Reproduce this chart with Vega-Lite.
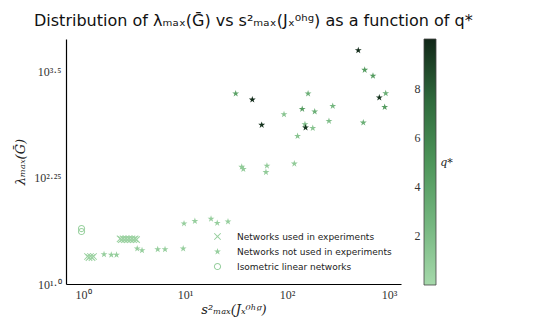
{
  "$schema": "https://vega.github.io/schema/vega-lite/v6.json",
  "padding": {"left": 14, "top": 12, "right": 5, "bottom": 5},
  "title": {
    "text": "Distribution of λₘₐₓ(Ḡ) vs s²ₘₐₓ(Jₓ⁰ʰᵍ) as a function of q*",
    "anchor": "start",
    "frame": "group",
    "dx": -32,
    "font": "DejaVu Sans",
    "fontSize": 16,
    "fontWeight": "normal",
    "color": "#111111",
    "offset": 10
  },
  "spacing": 13,
  "config": {"view": {"stroke": null}},
  "hconcat": [
    {
      "width": 335,
      "height": 245,
      "data": {
        "values": [
          {"x": 2.31, "y": 34.1, "q": 0.5, "type": "Networks used in experiments"},
          {"x": 2.38, "y": 33.4, "q": 0.5, "type": "Networks used in experiments"},
          {"x": 2.47, "y": 34.1, "q": 0.5, "type": "Networks used in experiments"},
          {"x": 2.55, "y": 33.4, "q": 0.5, "type": "Networks used in experiments"},
          {"x": 2.64, "y": 34.1, "q": 0.5, "type": "Networks used in experiments"},
          {"x": 2.73, "y": 33.4, "q": 0.5, "type": "Networks used in experiments"},
          {"x": 2.82, "y": 34.1, "q": 0.5, "type": "Networks used in experiments"},
          {"x": 2.92, "y": 33.4, "q": 0.5, "type": "Networks used in experiments"},
          {"x": 3.02, "y": 34.1, "q": 0.5, "type": "Networks used in experiments"},
          {"x": 3.13, "y": 33.4, "q": 0.5, "type": "Networks used in experiments"},
          {"x": 3.24, "y": 34.1, "q": 0.5, "type": "Networks used in experiments"},
          {"x": 3.35, "y": 33.4, "q": 0.5, "type": "Networks used in experiments"},
          {"x": 1.107, "y": 21.1, "q": 0.5, "type": "Networks used in experiments"},
          {"x": 1.145, "y": 20.5, "q": 0.5, "type": "Networks used in experiments"},
          {"x": 1.184, "y": 21.1, "q": 0.5, "type": "Networks used in experiments"},
          {"x": 1.225, "y": 20.5, "q": 0.5, "type": "Networks used in experiments"},
          {"x": 1.268, "y": 21.1, "q": 0.5, "type": "Networks used in experiments"},
          {"x": 0.967, "y": 45.1, "q": 0.5, "type": "Isometric linear networks"},
          {"x": 0.967, "y": 41.6, "q": 0.5, "type": "Isometric linear networks"},
          {"x": 1.607, "y": 22.4, "q": 0.8, "type": "Networks not used in experiments"},
          {"x": 1.893, "y": 22.1, "q": 0.8, "type": "Networks not used in experiments"},
          {"x": 2.13, "y": 22.1, "q": 0.8, "type": "Networks not used in experiments"},
          {"x": 3.4, "y": 26.1, "q": 0.8, "type": "Networks not used in experiments"},
          {"x": 3.79, "y": 25.0, "q": 0.8, "type": "Networks not used in experiments"},
          {"x": 5.4, "y": 25.6, "q": 0.8, "type": "Networks not used in experiments"},
          {"x": 6.37, "y": 25.6, "q": 0.8, "type": "Networks not used in experiments"},
          {"x": 9.6, "y": 26.2, "q": 0.8, "type": "Networks not used in experiments"},
          {"x": 9.78, "y": 51.7, "q": 0.8, "type": "Networks not used in experiments"},
          {"x": 12.5, "y": 55.3, "q": 0.8, "type": "Networks not used in experiments"},
          {"x": 18.0, "y": 58.7, "q": 0.8, "type": "Networks not used in experiments"},
          {"x": 20.7, "y": 52.4, "q": 0.8, "type": "Networks not used in experiments"},
          {"x": 26.4, "y": 54.3, "q": 0.8, "type": "Networks not used in experiments"},
          {"x": 31.4, "y": 1755, "q": 4, "type": "Networks not used in experiments"},
          {"x": 45.7, "y": 1490, "q": 9.8, "type": "Networks not used in experiments"},
          {"x": 56.5, "y": 750, "q": 9.5, "type": "Networks not used in experiments"},
          {"x": 500, "y": 5700, "q": 9.8, "type": "Networks not used in experiments"},
          {"x": 578, "y": 3340, "q": 4.5, "type": "Networks not used in experiments"},
          {"x": 697, "y": 2840, "q": 4.5, "type": "Networks not used in experiments"},
          {"x": 804, "y": 1574, "q": 9.5, "type": "Networks not used in experiments"},
          {"x": 929, "y": 1774, "q": 3, "type": "Networks not used in experiments"},
          {"x": 908, "y": 1222, "q": 4.5, "type": "Networks not used in experiments"},
          {"x": 161, "y": 1755, "q": 3, "type": "Networks not used in experiments"},
          {"x": 141, "y": 1158, "q": 4.5, "type": "Networks not used in experiments"},
          {"x": 187, "y": 1076, "q": 3, "type": "Networks not used in experiments"},
          {"x": 281, "y": 1256, "q": 2.5, "type": "Networks not used in experiments"},
          {"x": 93.5, "y": 1003, "q": 1.5, "type": "Networks not used in experiments"},
          {"x": 258, "y": 836, "q": 2, "type": "Networks not used in experiments"},
          {"x": 560, "y": 798, "q": 3, "type": "Networks not used in experiments"},
          {"x": 150, "y": 764, "q": 2, "type": "Networks not used in experiments"},
          {"x": 152, "y": 697, "q": 9.5, "type": "Networks not used in experiments"},
          {"x": 179, "y": 691, "q": 1.5, "type": "Networks not used in experiments"},
          {"x": 127, "y": 556, "q": 1.5, "type": "Networks not used in experiments"},
          {"x": 36.0, "y": 240, "q": 1, "type": "Networks not used in experiments"},
          {"x": 37.3, "y": 227, "q": 1, "type": "Networks not used in experiments"},
          {"x": 63.6, "y": 248, "q": 1, "type": "Networks not used in experiments"},
          {"x": 62.2, "y": 208, "q": 1, "type": "Networks not used in experiments"},
          {"x": 118, "y": 262, "q": 1, "type": "Networks not used in experiments"}
        ]
      },
      "mark": {"type": "point", "filled": true, "strokeWidth": 0, "size": 52, "opacity": 1},
      "encoding": {
        "x": {
          "field": "x", "type": "quantitative",
          "scale": {"type": "log", "domain": [0.681, 1312], "nice": false},
          "axis": {
            "values": [1, 10, 100, 1000],
            "labelExpr": "datum.value == 1 ? '10⁰' : datum.value == 10 ? '10¹' : datum.value == 100 ? '10²' : '10³'",
            "title": "s²ₘₐₓ(Jₓ⁰ʰᵍ)",
            "ticks": false, "grid": false,
            "domainColor": "#000000", "domainWidth": 1.2,
            "labelFont": "Liberation Serif", "labelFontSize": 12, "labelColor": "#333333",
            "labelPadding": 5, "labelFlush": false,
            "titleFont": "DejaVu Serif", "titleFontStyle": "italic", "titleFontWeight": "normal",
            "titleFontSize": 13, "titleColor": "#222222", "titlePadding": 3
          }
        },
        "y": {
          "field": "y", "type": "quantitative",
          "scale": {"type": "log", "domain": [10, 7745], "nice": false},
          "axis": {
            "values": [10, 177.83, 3162.28],
            "labelExpr": "datum.value < 50 ? '10¹·⁰' : datum.value < 1000 ? '10²·²⁵' : '10³·⁵'",
            "title": "λₘₐₓ(Ḡ)",
            "ticks": false, "grid": false,
            "domainColor": "#000000", "domainWidth": 1.2,
            "labelFont": "Liberation Serif", "labelFontSize": 12, "labelColor": "#333333",
            "labelPadding": 5, "labelFlush": false,
            "titleFont": "DejaVu Serif", "titleFontStyle": "italic", "titleFontWeight": "normal",
            "titleFontSize": 13, "titleColor": "#222222", "titlePadding": 6
          }
        },
        "shape": {
          "field": "type", "type": "nominal",
          "scale": {
            "domain": ["Networks used in experiments", "Networks not used in experiments", "Isometric linear networks"],
            "range": [
              "M-1,-0.8L-0.8,-1L0,-0.2L0.8,-1L1,-0.8L0.2,0L1,0.8L0.8,1L0,0.2L-0.8,1L-1,0.8L-0.2,0Z",
              "M0,-1L0.2245,-0.309L0.951,-0.309L0.363,0.118L0.588,0.809L0,0.382L-0.588,0.809L-0.363,0.118L-0.951,-0.309L-0.2245,-0.309Z",
              "M1,0A1,1,0,1,1,-1,0A1,1,0,1,1,1,0ZM0.72,0A0.72,0.72,0,1,0,-0.72,0A0.72,0.72,0,1,0,0.72,0Z"
            ]
          },
          "legend": {
            "orient": "none", "legendX": 147, "legendY": 193,
            "title": null, "padding": 0,
            "symbolSize": 52, "symbolStrokeWidth": 0,
            "symbolFillColor": "#98cf9f", "symbolStrokeColor": "#98cf9f",
            "labelFont": "DejaVu Sans", "labelFontSize": 9, "labelColor": "#222222",
            "labelOffset": 15, "rowPadding": 5
          }
        },
        "color": {
          "field": "q", "type": "quantitative",
          "scale": {"domain": [0, 2.5, 5, 7.5, 10], "range": ["#a6d9ab", "#74b67f", "#4d9559", "#2f6a3c", "#112718"]},
          "legend": null
        }
      }
    },
    {
      "width": 12,
      "height": 246,
      "data": {"values": [{"lo": 0, "hi": 10}]},
      "mark": {
        "type": "rect",
        "stroke": "#444444",
        "strokeWidth": 0.8,
        "fill": {
          "gradient": "linear", "x1": 0, "y1": 1, "x2": 0, "y2": 0,
          "stops": [
            {"offset": 0, "color": "#a6d9ab"},
            {"offset": 0.25, "color": "#74b67f"},
            {"offset": 0.5, "color": "#4d9559"},
            {"offset": 0.75, "color": "#2f6a3c"},
            {"offset": 1, "color": "#112718"}
          ]
        }
      },
      "encoding": {
        "y": {
          "field": "lo", "type": "quantitative",
          "scale": {"domain": [0, 10], "nice": false, "zero": false},
          "axis": {
            "orient": "left", "values": [2, 4, 6, 8],
            "ticks": false, "domain": false, "grid": false,
            "labelFont": "Liberation Serif", "labelFontSize": 12, "labelColor": "#333333",
            "labelPadding": 4,
            "title": "q*", "titleFont": "DejaVu Serif", "titleFontStyle": "italic",
            "titleFontWeight": "normal", "titleFontSize": 11, "titleColor": "#222222",
            "titleAngle": 0, "titleX": 22, "titleY": 123, "titleAlign": "center", "titleBaseline": "middle"
          }
        },
        "y2": {"field": "hi"}
      }
    }
  ]
}
